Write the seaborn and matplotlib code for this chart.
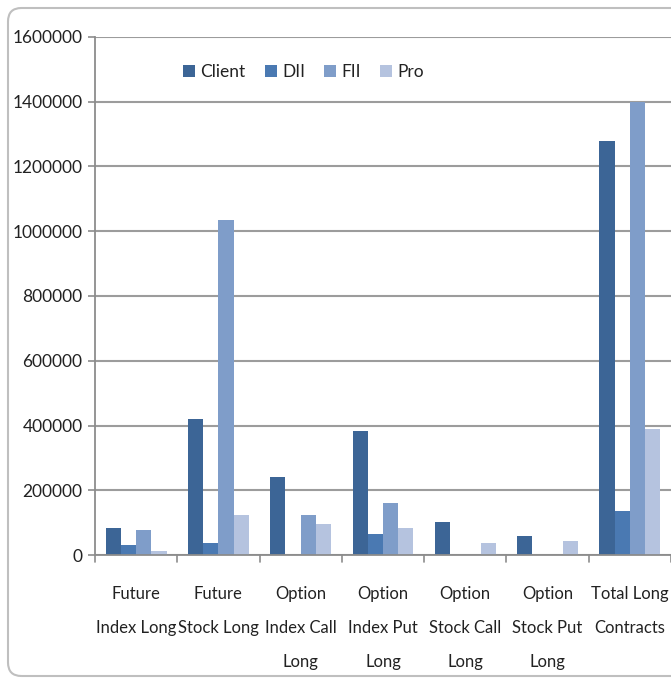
import matplotlib
matplotlib.use("Agg")
import matplotlib.pyplot as plt
from matplotlib.patches import FancyBboxPatch
import seaborn as sns
import pandas as pd

categories = [
    "Future\nIndex Long",
    "Future\nStock Long",
    "Option\nIndex Call\nLong",
    "Option\nIndex Put\nLong",
    "Option\nStock Call\nLong",
    "Option\nStock Put\nLong",
    "Total Long\nContracts",
]
series = ["Client", "DII", "FII", "Pro"]
client = [84000, 420000, 240000, 382000, 102000, 58000, 1280000]
dii = [32000, 38000, 0, 64000, 0, 0, 135000]
fii = [78000, 1036000, 123000, 161000, 0, 0, 1398000]
pro = [12000, 123000, 97000, 84000, 38000, 44000, 390000]
yticks = [0, 200000, 400000, 600000, 800000, 1000000, 1200000, 1400000, 1600000]

colors = ["#3C6596", "#4A79B2", "#7F9DC9", "#B5C3DF"]

rows = []
for name, vals in zip(series, [client, dii, fii, pro]):
    for cat, v in zip(categories, vals):
        rows.append({"category": cat, "series": name, "value": v})
df = pd.DataFrame(rows)

sns.set_style("white")
plt.rcParams["font.family"] = ["Lato", "DejaVu Sans"]

fig = plt.figure(figsize=(6.71, 6.81), dpi=100)
ax = fig.add_axes([95 / 671, 1 - 555 / 681, 1 - 95 / 671, (555 - 37) / 681])

sns.barplot(data=df, x="category", y="value", hue="series", order=categories,
            hue_order=series, palette=colors, width=0.74, gap=0,
            saturation=1, edgecolor="none", ax=ax, legend=True)

ax.set_xlim(-0.5, 6.5)
ax.set_ylim(0, 1600000)
ax.set_yticks(yticks)
ax.set_yticklabels([str(t) for t in yticks], fontsize=12.5, color="#222222")
ax.set_xlabel("")
ax.set_ylabel("")
ax.set_xticks(range(len(categories)))
ax.set_xticklabels(categories, fontsize=12, color="#222222", linespacing=2.4)
ax.tick_params(axis="x", length=0, pad=22)
ax.tick_params(axis="y", length=5, width=1.2, color="#8C8C8C", pad=4, left=True)

# category boundary ticks below the baseline
for b in [i - 0.5 for i in range(len(categories) + 1)]:
    ax.plot([b, b], [0, -22000], color="#8C8C8C", lw=1.2, clip_on=False, zorder=3)

ax.grid(axis="y", color="#9C9C9C", lw=1.5)
ax.set_axisbelow(True)
for side in ["top", "right"]:
    ax.spines[side].set_visible(False)
for side in ["left", "bottom"]:
    ax.spines[side].set_color("#8C8C8C")
    ax.spines[side].set_linewidth(1.3)

leg = ax.legend(loc="upper left", bbox_to_anchor=(0.126, 0.978), ncol=4, frameon=False,
                fontsize=12.5, handlelength=0.7, handleheight=0.7,
                handletextpad=0.3, columnspacing=1.1)
for t in leg.get_texts():
    t.set_color("#222222")

# chart area outline
frame = FancyBboxPatch((8 / 671, 5 / 681), 1.2, 1 - 13 / 681,
                       boxstyle="round,pad=0,rounding_size=0.02",
                       transform=fig.transFigure, fill=False,
                       edgecolor="#BFBFBF", lw=1.5, zorder=-1)
fig.patches.append(frame)

fig.savefig("out.png", dpi=100)
